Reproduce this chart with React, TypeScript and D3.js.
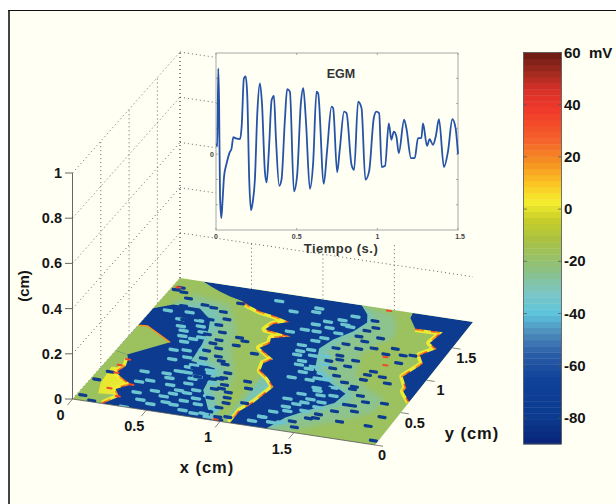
import React from "react";
import * as d3 from "d3";

const W = 616, H = 504;
const FONT = "'Liberation Sans', Arial, sans-serif";

// colormap
const cmapValues = [-90, -80, -65, -55, -47, -40, -32, -22, -12, -4, 3, 10, 18, 26, 38, 46, 53, 60];
const cmapColors = ["#0a2578", "#0b3a8e", "#10429a", "#2c5fa8", "#4f90bd", "#5cc4dc", "#7cc6c4", "#8fc07a", "#a9c143", "#c8ce28", "#f5ee2c", "#fbc324", "#f59122", "#f5642a", "#f13a2a", "#d62f28", "#9c2a1e", "#6a1a12"];
const colorbarTicks = [60, 40, 20, 0, -20, -40, -60, -80];

// potential levels on the floor map (mV)
const V_REST = -78, V_CYAN = -36, V_TEAL = -27, V_GREEN = -17, V_YELLOW = 3, V_ORANGE = 18, V_RED = 34;

// regions on the floor, as [fraction of x, fraction of y counted from the back]
const front1: [number, number][] = [[0.08, 0], [0.12, 0.03], [0.156, 0.055], [0.2, 0.08], [0.25, 0.1], [0.28, 0.125], [0.33, 0.155], [0.38, 0.17], [0.445, 0.2], [0.4, 0.235], [0.39, 0.28], [0.485, 0.305], [0.43, 0.34], [0.44, 0.38], [0.42, 0.42], [0.45, 0.45], [0.49, 0.49], [0.47, 0.53], [0.48, 0.585], [0.52, 0.63], [0.56, 0.69], [0.555, 0.73], [0.54, 0.83], [0.52, 0.9], [0.52, 1]];
const blue2Right: [number, number][] = [[0.62, 0], [0.66, 0.06], [0.68, 0.12], [0.66, 0.2], [0.62, 0.28], [0.6, 0.36], [0.62, 0.44], [0.64, 0.52], [0.72, 0.6], [0.79, 0.66], [0.78, 0.74], [0.72, 0.82], [0.67, 0.9], [0.64, 1]];
const front2: [number, number][] = [[0.795, 0], [0.8, 0.04], [0.84, 0.11], [0.933, 0.107], [0.92, 0.2], [0.955, 0.235], [0.92, 0.3], [0.95, 0.36], [0.92, 0.474], [0.957, 0.55], [0.957, 0.58], [1, 0.65]];
const blue3Corner: [number, number][] = [[1, 0.65], [1, 0]];
const frontLeft: [number, number][] = [[0.1, 1], [0.13, 0.93], [0.1, 0.88], [0.135, 0.83], [0.09, 0.79], [0.06, 0.76], [0.07, 0.7], [0.06, 0.65]];
const blue1Rest: [number, number][] = [[0.045, 0.615], [0, 0.6], [0, 0.25], [0.05, 0.2], [0.14, 0.2], [0.2, 0.27], [0.22, 0.34], [0.24, 0.46], [0.25, 0.59], [0.34, 0.62], [0.36, 0.79], [0.42, 0.92], [0.46, 1]];
const leftPatch: [number, number][] = [[0, 0.39], [0.03, 0.385], [0.07, 0.42], [0.14, 0.48], [0.045, 0.615], [0, 0.6]];
const leftPatchEdge: [number, number][] = [[0, 0.39], [0.03, 0.385], [0.07, 0.42], [0.14, 0.48]];
const yellowPatch: [number, number][] = [[0.03, 0.72], [0.06, 0.72], [0.13, 0.84], [0.12, 0.92], [0.06, 0.93], [0.04, 0.85]];
const cyanHalo1: [number, number][] = [[0.05, 0.17], [0.18, 0.17], [0.24, 0.27], [0.26, 0.46], [0.28, 0.55], [0.37, 0.62], [0.39, 0.79], [0.45, 0.92], [0.49, 1], [0.3, 1], [0.1, 0.6]];
const tealBand1: [number, number][] = [[0.08, 0.1], [0.22, 0.14], [0.3, 0.3], [0.34, 0.46], [0.38, 0.56], [0.42, 0.66], [0.44, 0.8], [0.46, 1], [0.1, 1], [0.1, 0.6]];
const cyanHalo2: [number, number][] = [[0.62, 0], [0.68, 0.06], [0.7, 0.12], [0.68, 0.2], [0.65, 0.28], [0.63, 0.36], [0.65, 0.44], [0.67, 0.52], [0.75, 0.6], [0.82, 0.66], [0.81, 0.74], [0.75, 0.82], [0.7, 0.9], [0.66, 1], [0.5, 1], [0.5, 0]];
const tealBand2: [number, number][] = [[0.6, 0], [0.74, 0.03], [0.78, 0.12], [0.8, 0.2], [0.76, 0.28], [0.74, 0.36], [0.76, 0.44], [0.78, 0.52], [0.84, 0.6], [0.92, 0.66], [0.92, 0.76], [0.86, 0.84], [0.78, 0.92], [0.72, 1], [0.5, 1], [0.5, 0]];

// speckles
const blueSpeckU = [0.2, 0.15, 0.175, 0.125, 0.147, 0.085, 0.27, 0.335, 0.36, 0.345, 0.42, 0.34, 0.47, 0.49, 0.41, 0.45, 0.46, 0.515, 0.5, 0.48, 0.7, 0.76, 0.72, 0.72, 0.765, 0.815, 0.83, 0.87, 0.9, 0.875, 0.74, 0.82, 0.86, 0.81, 0.89, 0.81, 0.93, 0.84, 0.935, 0.84, 0.955, 0.86, 0.985, 0.02, 0.05, 0.03, 0.08, 0.02, 0.04, 0.3, 0.28, 0.25, 0.31, 0.36, 0.39, 0.69, 0.73, 0.8, 0.72, 0.76, 0.02, 0.06,
  0.18, 0.22, 0.25, 0.24, 0.27, 0.23, 0.28, 0.3, 0.27, 0.32, 0.28, 0.36, 0.39, 0.38, 0.41, 0.39, 0.44, 0.4, 0.45, 0.43, 0.47,
  0.7, 0.72, 0.69, 0.67, 0.65, 0.68, 0.66, 0.69, 0.72, 0.76, 0.8, 0.84, 0.87, 0.82, 0.8, 0.76, 0.74, 0.7, 0.72];
const blueSpeckT = [0.27, 0.27, 0.355, 0.3, 0.17, 0.2, 0.44, 0.37, 0.39, 0.43, 0.47, 0.56, 0.68, 0.73, 0.76, 0.82, 0.86, 0.84, 0.96, 0.99, 0.18, 0.22, 0.26, 0.32, 0.3, 0.33, 0.28, 0.32, 0.31, 0.38, 0.41, 0.47, 0.5, 0.5, 0.54, 0.54, 0.69, 0.74, 0.87, 0.87, 0.79, 0.78, 0.97, 0.09, 0.1, 0.07, 0.14, 0.83, 0.76, 0.1, 0.64, 0.12, 0.7, 0.7, 0.68, 0.42, 0.46, 0.6, 0.64, 0.87, 0.96, 0.99,
  0.18, 0.2, 0.25, 0.3, 0.35, 0.38, 0.41, 0.47, 0.5, 0.53, 0.56, 0.58, 0.64, 0.69, 0.73, 0.77, 0.78, 0.84, 0.9, 0.94, 0.97,
  0.1, 0.15, 0.23, 0.3, 0.34, 0.39, 0.44, 0.49, 0.54, 0.58, 0.62, 0.66, 0.7, 0.74, 0.8, 0.84, 0.88, 0.92, 0.96];
const cyanSpeckU = [0.36, 0.5, 0.56, 0.51, 0.59, 0.54, 0.47, 0.65, 0.64, 0.62, 0.67, 0.645, 0.74, 0.67, 0.66, 0.58, 0.67, 0.7, 0.59, 0.7, 0.18, 0.23, 0.24, 0.26, 0.29, 0.34, 0.32, 0.36, 0.28, 0.28, 0.39, 0.44, 0.39, 0.24, 0.17, 0.15, 0.2, 0.11, 0.05, 0.26, 0.21, 0.3, 0.14, 0.17, 0.55, 0.62, 0.6, 0.44, 0.7,
  0.12, 0.17, 0.13, 0.19, 0.16, 0.22, 0.18, 0.21, 0.17, 0.23, 0.19, 0.27, 0.31, 0.27, 0.21, 0.3, 0.25, 0.34, 0.29, 0.22, 0.33, 0.38, 0.31, 0.35, 0.42, 0.2, 0.26, 0.37, 0.15, 0.33,
  0.63, 0.6, 0.64, 0.58, 0.62, 0.55, 0.57, 0.58, 0.55, 0.6, 0.58, 0.63, 0.67, 0.61, 0.7, 0.65, 0.74, 0.69, 0.76, 0.72, 0.66, 0.74, 0.69, 0.63, 0.71, 0.66, 0.62, 0.6, 0.64, 0.58, 0.5, 0.43, 0.53];
const cyanSpeckT = [0.06, 0.07, 0.157, 0.24, 0.28, 0.355, 0.27, 0.34, 0.41, 0.52, 0.79, 0.82, 0.79, 0.94, 0.47, 0.5, 0.58, 0.57, 0.6, 0.67, 0.78, 0.74, 0.68, 0.64, 0.6, 0.66, 0.83, 0.86, 0.85, 0.92, 0.83, 0.92, 0.97, 0.95, 1, 0.38, 0.43, 0.3, 0.25, 0.5, 0.37, 0.72, 0.72, 0.88, 0.4, 0.16, 0.92, 0.98, 0.74,
  0.24, 0.29, 0.35, 0.33, 0.42, 0.41, 0.46, 0.52, 0.53, 0.57, 0.6, 0.62, 0.7, 0.68, 0.71, 0.76, 0.79, 0.8, 0.82, 0.85, 0.89, 0.9, 0.93, 0.96, 0.96, 0.93, 0.88, 0.73, 0.8, 0.64,
  0.09, 0.13, 0.17, 0.2, 0.23, 0.24, 0.31, 0.38, 0.43, 0.42, 0.47, 0.5, 0.54, 0.55, 0.58, 0.6, 0.63, 0.65, 0.69, 0.7, 0.71, 0.75, 0.77, 0.76, 0.83, 0.85, 0.87, 0.92, 0.95, 0.96, 0.1, 0.12, 0.19];
const redSpeckU = [0.06, 0.135, 0.125, 0.06, 0.08, 0.717, 0.02, 0.82, 0.84, 0.05, 0.47];
const redSpeckT = [0.65, 0.83, 0.93, 0.76, 0.88, 0.01, 0.07, 0.35, 0.41, 0.7, 0.99];

// axes
const zTicks = [0, 0.2, 0.4, 0.6, 0.8, 1];
const xTicks = [0, 0.5, 1, 1.5];
const yTicks = [0, 0.5, 1, 1.5];
const X_MAX = 2.05, Y_MAX = 1.9;
const backVerticalX = [0, 0.5, 1, 1.5];
const backVerticalTopZ = [1, 0.2, 0.2, 0.3];
const leftVerticalY = [0.5, 1, 1.5, 1.9];

// EGM inset
const egmTime = [0.004, 0.008, 0.014, 0.019, 0.025, 0.033, 0.041, 0.05, 0.066, 0.083, 0.097, 0.107, 0.124, 0.149, 0.159, 0.173, 0.184, 0.194, 0.206, 0.217, 0.227, 0.241, 0.256, 0.272, 0.285, 0.303, 0.314, 0.328, 0.345, 0.359, 0.371, 0.392, 0.406, 0.427, 0.441, 0.458, 0.483, 0.503, 0.526, 0.541, 0.557, 0.582, 0.602, 0.623, 0.633, 0.668, 0.689, 0.716, 0.726, 0.751, 0.767, 0.794, 0.809, 0.84, 0.856, 0.881, 0.902, 0.926, 0.949, 0.978, 0.994, 1.011, 1.027, 1.048, 1.071, 1.087, 1.102, 1.118, 1.133, 1.166, 1.18, 1.209, 1.232, 1.252, 1.273, 1.283, 1.308, 1.324, 1.345, 1.362, 1.382, 1.413, 1.438, 1.465, 1.485, 1.5];
const egmValue = [0.43, 0.3, 3.39, 2.14, -1.67, -2.53, -1.8, -0.88, -0.36, 0.04, 0.24, 0.67, 0.62, 0.59, 1.09, 3, 3.07, 2.28, -1.01, -2.22, -1.93, -1.01, 1.62, 2.8, 2.01, -0.68, -1.12, 0.17, 2.14, 2.3, 0.7, -1.25, -1.01, 1.36, 2.57, 2.47, -1.47, -0.82, 2.01, 2.61, 1.36, -1.37, -0.36, 2.47, 2.41, -1.17, 0.17, 1.88, 1.82, -0.72, 0.17, 1.68, 1.62, -0.42, -0.62, 2.08, 1.82, -1.01, -0.68, 1.42, 1.68, 1.62, -0.51, -0.46, 1.22, 0.57, 0.89, 0.7, 0.04, 1.36, 1.03, -0.16, -0.16, 0.63, 0.63, 1.22, 0.33, 0.59, 0.37, 0.7, 1.38, -0.51, 0.11, 1.38, 1.03, 0];
const egmXTicks = [0, 0.5, 1, 1.5];
const egmYTicks = [-2, -1, 0, 1, 2, 3];

const AXIS_GRAY = "#666";
const DOT = "#555";
const TXT = "#151515";

export default function App() {
  const color = d3.scaleLinear<string>().domain(cmapValues).range(cmapColors).interpolate(d3.interpolateRgb);
  const barY = d3.scaleLinear().domain([-90, 60]).range([444, 52.5]);
  const barLevels = d3.range(64).map((i) => -90 + (i * 150) / 64);

  const ux = d3.scaleLinear().domain([0, X_MAX]).range([0, 1]);
  const uy = d3.scaleLinear().domain([0, Y_MAX]).range([0, 1]);
  const zPx = d3.scaleLinear().domain([0, 1]).range([0, 226]);
  const A = [72.5, 399], B = [375, 445], C = [473, 322], D = [180, 278];
  const proj = (u: number, v: number): [number, number] => {
    const bx = A[0] + (B[0] - A[0]) * u, by = A[1] + (B[1] - A[1]) * u;
    const tx = D[0] + (C[0] - D[0]) * u, ty = D[1] + (C[1] - D[1]) * u;
    return [bx + (tx - bx) * v, by + (ty - by) * v];
  };
  const P = (x: number, y: number, z = 0): [number, number] => {
    const p = proj(ux(x), uy(y));
    return [p[0], p[1] - zPx(z)];
  };
  const R = (p: [number, number]) => proj(p[0], 1 - p[1]);
  const lineGen = d3.line();
  const poly = (pts: [number, number][]) => lineGen(pts.map(R)) + "Z";
  const open = (pts: [number, number][]) => lineGen(pts.map(R)) as string;

  const blue1 = [...frontLeft, ...blue1Rest];
  const blue2 = [...blue2Right, ...[...front1].reverse()];
  const blue3 = [...front2, ...blue3Corner];

  const speck = (u: number, t: number, half: number) => {
    const a = R([Math.max(0, u - half), t]), b = R([Math.min(1, u + half), t]);
    return { x1: a[0], y1: a[1], x2: b[0], y2: b[1] };
  };

  const fronts = [front1.slice(4), front2.slice(2), frontLeft];

  const ex = d3.scaleLinear().domain([0, 1.5]).range([216, 458]);
  const ey = d3.scaleLinear().domain([-3, 4]).range([230, 53]);
  const egmPath = d3.line<number>().x((_, i) => ex(egmTime[i])).y((v) => ey(v)).curve(d3.curveMonotoneX)(egmValue) as string;

  const dotted = { stroke: DOT, strokeWidth: 0.9, strokeDasharray: "1 3", fill: "none" };
  const bold = { fontFamily: FONT, fontWeight: 700, fill: TXT };

  return (
    <svg width={W} height={H} style={{ position: "absolute", left: 0, top: 0, display: "block" }}>
      <defs>
        <filter id="soft" x="-2%" y="-2%" width="104%" height="104%">
          <feGaussianBlur stdDeviation="0.7" />
        </filter>
        <filter id="softer" x="-5%" y="-5%" width="110%" height="110%">
          <feGaussianBlur stdDeviation="2.5" />
        </filter>
        <filter id="softLine" x="-2%" y="-2%" width="104%" height="104%">
          <feGaussianBlur stdDeviation="0.35" />
        </filter>
        <clipPath id="floor">
          <path d={lineGen([proj(0, 0), proj(1, 0), proj(1, 1), proj(0, 1)]) + "Z"} />
        </clipPath>
      </defs>
      <rect width={W} height={H} fill="#fff" />
      <rect x={9} y={10} width={W - 9} height={H - 10} fill="#FFFFF4" />
      <rect x={8} y={10} width={2} height={H - 10} fill="#444" />
      <rect x={8} y={10} width={W - 8} height={1} fill="#111" />

      {zTicks.map((z) => {
        const a = P(0, 0, z), b = P(0, Y_MAX, z);
        return <line key={z} x1={a[0]} y1={a[1]} x2={b[0]} y2={b[1]} {...dotted} />;
      })}
      {leftVerticalY.map((y) => {
        const a = P(0, y, 0), b = P(0, y, 1);
        return <line key={y} x1={a[0]} y1={a[1]} x2={b[0]} y2={b[1]} {...dotted} />;
      })}
      {zTicks.map((z) => {
        const a = P(0, Y_MAX, z), b = P(z === 0.2 ? X_MAX : 0.26, Y_MAX, z);
        return z === 0 ? null : <line key={z} x1={a[0]} y1={a[1]} x2={b[0]} y2={b[1]} {...dotted} />;
      })}
      {backVerticalX.map((x, i) => {
        const a = P(x, Y_MAX, 0), b = P(x, Y_MAX, backVerticalTopZ[i]);
        return <line key={x} x1={a[0]} y1={a[1]} x2={b[0]} y2={b[1]} {...dotted} />;
      })}

      {/* floor map */}
      <g clipPath="url(#floor)">
        <g filter="url(#soft)">
          <rect x={60} y={270} width={420} height={180} fill={color(V_GREEN)} />
          <g filter="url(#softer)">
            <path d={poly(tealBand1)} fill={color(V_TEAL)} opacity={0.7} />
            <path d={poly(tealBand2)} fill={color(V_TEAL)} opacity={0.7} />
            <path d={poly(cyanHalo1)} fill={color(V_CYAN)} opacity={0.6} />
            <path d={poly(cyanHalo2)} fill={color(V_CYAN)} opacity={0.6} />
          </g>
          <path d={poly(yellowPatch)} fill={color(V_YELLOW)} opacity={0.85} />
          {fronts.map((f, i) => (
            <g key={i} fill="none" strokeLinejoin="round">
              <path d={open(f)} stroke={color(V_YELLOW)} strokeWidth={7} opacity={0.9} />
              <path d={open(f)} stroke={color(V_ORANGE)} strokeWidth={3.6} strokeDasharray="9 7" />
              <path d={open(f)} stroke={color(V_RED)} strokeWidth={2.2} strokeDasharray="4 12" />
            </g>
          ))}
          <path d={poly(blue1)} fill={color(V_REST)} />
          <path d={poly(leftPatch)} fill={color(V_GREEN)} />
          <path d={open(leftPatchEdge)} fill="none" stroke={color(V_ORANGE)} strokeWidth={1.6} />
          <path d={poly(blue2)} fill={color(V_REST)} />
          <path d={poly(blue3)} fill={color(V_REST)} />
          {cyanSpeckU.map((u, i) => (
            <line key={"c" + i} {...speck(u, cyanSpeckT[i], 0.012)} stroke={color(V_CYAN)} strokeWidth={3.4} strokeLinecap="round" />
          ))}
          {blueSpeckU.map((u, i) => (
            <line key={"b" + i} {...speck(u, blueSpeckT[i], 0.01)} stroke={color(V_REST)} strokeWidth={3.2} strokeLinecap="round" />
          ))}
          {redSpeckU.map((u, i) => (
            <line key={"r" + i} {...speck(u, redSpeckT[i], 0.007)} stroke={color(V_RED)} strokeWidth={2} strokeLinecap="round" />
          ))}
        </g>
      </g>

      {/* z axis */}
      <line x1={72.5} y1={173} x2={72.5} y2={399} stroke={AXIS_GRAY} strokeWidth={1} />
      {zTicks.map((z) => {
        const p = P(0, 0, z);
        return (
          <g key={z}>
            <line x1={65} y1={p[1]} x2={72.5} y2={p[1]} stroke={AXIS_GRAY} strokeWidth={1} />
            <text x={62} y={p[1] + 5} textAnchor="end" fontSize={14.5} {...bold}>{z}</text>
          </g>
        );
      })}
      <text transform="translate(29,286) rotate(-90)" textAnchor="middle" fontSize={15} {...bold}>(cm)</text>

      {/* floor ticks */}
      <line x1={A[0]} y1={A[1]} x2={B[0]} y2={B[1]} stroke="#555" strokeWidth={0.8} />
      {xTicks.map((x) => {
        const p = P(x, 0);
        return (
          <g key={x}>
            <line x1={p[0]} y1={p[1]} x2={p[0] - 5} y2={p[1] + 6} stroke={AXIS_GRAY} strokeWidth={0.8} />
            <text x={p[0] - 12} y={p[1] + 21} textAnchor="middle" fontSize={14.5} {...bold}>{x}</text>
          </g>
        );
      })}
      {yTicks.map((y) => {
        const p = P(X_MAX, y);
        return (
          <g key={y}>
            <line x1={p[0]} y1={p[1]} x2={p[0] + 8} y2={p[1] + 1.2} stroke={AXIS_GRAY} strokeWidth={0.8} />
            <text x={p[0] + (y === 0 ? 7 : 14)} y={p[1] + 15} textAnchor="middle" fontSize={14.5} {...bold}>{y}</text>
          </g>
        );
      })}
      <text x={207} y={473} textAnchor="middle" fontSize={16.5} letterSpacing={1} {...bold}>x (cm)</text>
      <text x={472} y={439} textAnchor="middle" fontSize={16.5} letterSpacing={1} {...bold}>y (cm)</text>

      {/* inset */}
      <rect x={216} y={53} width={242} height={177} fill="#FFFFF4" stroke="#aaa" strokeWidth={1} />
      {egmXTicks.map((t) => (
        <g key={t}>
          <line x1={ex(t)} x2={ex(t)} y1={53} y2={55} stroke="#888" strokeWidth={0.7} />
          <line x1={ex(t)} x2={ex(t)} y1={230} y2={228} stroke="#888" strokeWidth={0.7} />
          <text x={ex(t) + (t === 1.5 ? 2 : 0)} y={238.5} textAnchor="middle" fontSize={7} {...bold} fill="#444">{t}</text>
        </g>
      ))}
      {egmYTicks.map((v) => (
        <g key={v}>
          <line x1={216} x2={218} y1={ey(v)} y2={ey(v)} stroke="#888" strokeWidth={0.7} />
          <line x1={458} x2={456} y1={ey(v)} y2={ey(v)} stroke="#888" strokeWidth={0.7} />
        </g>
      ))}
      <text x={212} y={157} textAnchor="middle" fontSize={7} {...bold} fill="#444">0</text>
      <path d={egmPath} fill="none" stroke="#2553a8" strokeWidth={1.8} filter="url(#softLine)" />
      <text x={341} y={78} textAnchor="middle" fontSize={12.5} {...bold} fill="#333">EGM</text>
      <text x={341} y={253} textAnchor="middle" fontSize={13} letterSpacing={0.5} {...bold} fill="#333">Tiempo (s.)</text>

      {/* colorbar */}
      <g>
        {barLevels.map((v, i) => {
          const y1 = barY(v), y0 = barY(v + 150 / 64);
          return <rect key={i} x={523.5} y={y0} width={38} height={y1 - y0 + 0.4} fill={color(v + 75 / 64)} />;
        })}
        <rect x={523.5} y={52.5} width={38} height={391.5} fill="none" stroke="#555" strokeWidth={0.8} />
      </g>
      {colorbarTicks.map((v) => (
        <g key={v}>
          <line x1={523.5} x2={527} y1={barY(v)} y2={barY(v)} stroke="#555" strokeWidth={0.7} />
          <line x1={558} x2={561.5} y1={barY(v)} y2={barY(v)} stroke="#555" strokeWidth={0.7} />
          <text x={564} y={barY(v) + 5} fontSize={15} {...bold}>{v}</text>
        </g>
      ))}
      <text x={589} y={58} fontSize={15} {...bold}>mV</text>
    </svg>
  );
}
